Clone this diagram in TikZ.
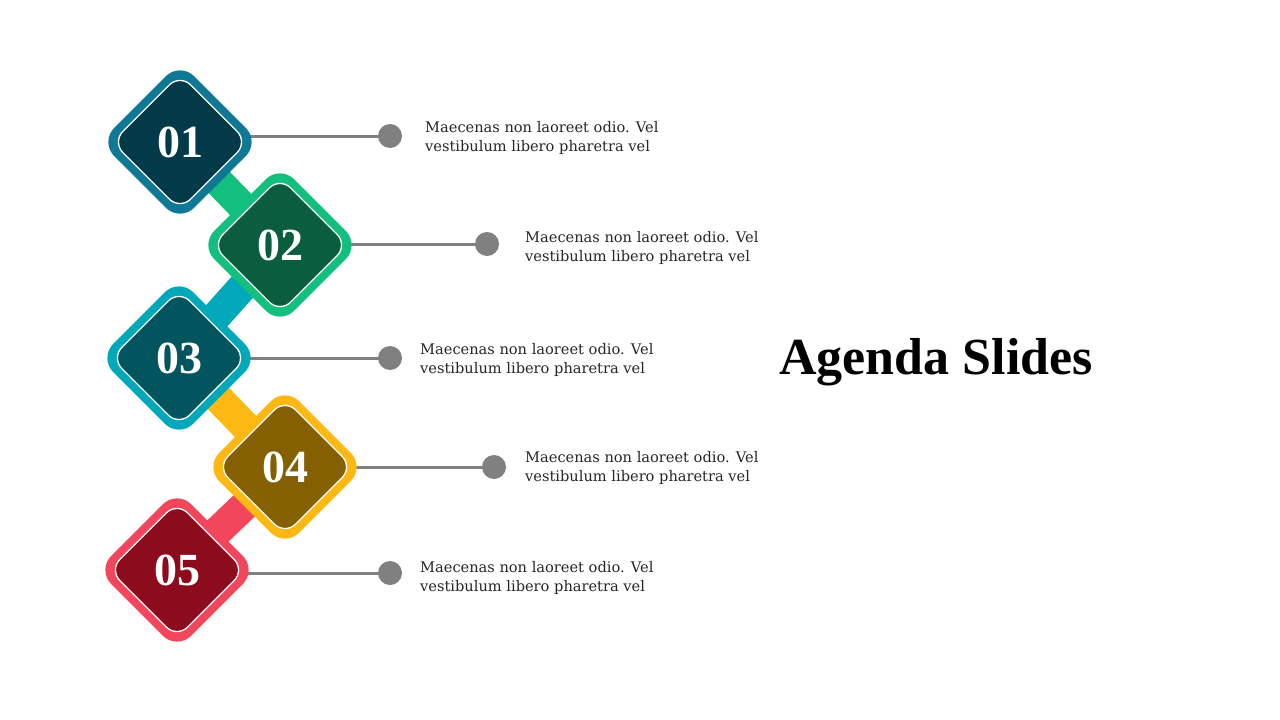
\documentclass[tikz,border=0pt]{standalone}
\usepackage{fontspec}
\setmainfont{DejaVu Serif}
\newfontfamily\numfont{Liberation Serif}
\usetikzlibrary{shapes.geometric}
\pgfdeclarelayer{bg}
\pgfdeclarelayer{paper}
\pgfsetlayers{paper,bg,main}
\definecolor{ringA}{HTML}{0E7895}
\definecolor{fillA}{HTML}{023A4A}
\definecolor{ringB}{HTML}{13BF7E}
\definecolor{fillB}{HTML}{0B5E3D}
\definecolor{ringC}{HTML}{00A8B9}
\definecolor{fillC}{HTML}{02555E}
\definecolor{ringD}{HTML}{FDB813}
\definecolor{fillD}{HTML}{856000}
\definecolor{ringE}{HTML}{F1465C}
\definecolor{fillE}{HTML}{8C0C1E}
\definecolor{lineG}{HTML}{808080}
\definecolor{bodyT}{HTML}{262626}
\tikzset{
  outerd/.style={diamond, aspect=1, minimum size=160pt, inner sep=0pt, rounded corners=20pt, fill=#1},
  innerd/.style={diamond, aspect=1, minimum size=136pt, inner sep=0pt, rounded corners=15pt, fill=#1, draw=white, line width=1.3pt, text=white, font=\numfont\bfseries\fontsize{46}{46}\selectfont},
  dot/.style={circle, fill=lineG, minimum size=24pt, inner sep=0pt},
  leader/.style={draw=lineG, line width=3pt},
  bar/.style={line width=30pt, draw=#1},
  desc/.style={anchor=west, align=left, text=bodyT, font=\fontsize{14.6}{19}\selectfont, inner sep=0pt},
}
\begin{document}
\begin{tikzpicture}[x=1pt,y=-1pt]
\begin{pgfonlayer}{paper}
\fill[white] (0,0) rectangle (1280,720);
\end{pgfonlayer}
\useasboundingbox (0,0) rectangle (1280,720);
% diamonds
\node[outerd=ringA] (o1) at (180,142) {};
\node[innerd=fillA] (d1) at (180,142) {01};
\node[outerd=ringB] (o2) at (280,245) {};
\node[innerd=fillB] (d2) at (280,245) {02};
\node[outerd=ringC] (o3) at (179,358) {};
\node[innerd=fillC] (d3) at (179,358) {03};
\node[outerd=ringD] (o4) at (285,467) {};
\node[innerd=fillD] (d4) at (285,467) {04};
\node[outerd=ringE] (o5) at (177,570) {};
\node[innerd=fillE] (d5) at (177,570) {05};
% dots
\node[dot] (c1) at (390,136) {};
\node[dot] (c2) at (487,244) {};
\node[dot] (c3) at (390,358) {};
\node[dot] (c4) at (494,467) {};
\node[dot] (c5) at (390,573) {};
\begin{pgfonlayer}{bg}
\draw[bar=ringB] (o1.center) -- (o2.center);
\draw[bar=ringC] (o2.center) -- (o3.center);
\draw[bar=ringD] (o3.center) -- (o4.center);
\draw[bar=ringE] (o4.center) -- (o5.center);
\draw[leader] (o1.center |- c1) -- (c1.center);
\draw[leader] (o2.center |- c2) -- (c2.center);
\draw[leader] (o3.center |- c3) -- (c3.center);
\draw[leader] (o4.center |- c4) -- (c4.center);
\draw[leader] (o5.center |- c5) -- (c5.center);
\end{pgfonlayer}
% texts
\node[desc] (t1) at (425,138) {Maecenas non laoreet odio. Vel\\vestibulum libero pharetra vel};
\node[desc] (t2) at (525,248) {Maecenas non laoreet odio. Vel\\vestibulum libero pharetra vel};
\node[desc] (t3) at (420,360) {Maecenas non laoreet odio. Vel\\vestibulum libero pharetra vel};
\node[desc] (t4) at (525,468) {Maecenas non laoreet odio. Vel\\vestibulum libero pharetra vel};
\node[desc] (t5) at (420,578) {Maecenas non laoreet odio. Vel\\vestibulum libero pharetra vel};
\node[font=\numfont\bfseries\fontsize{52}{52}\selectfont, text=black, inner sep=0pt] (title) at (936,362) {Agenda Slides};
\end{tikzpicture}
\end{document}
